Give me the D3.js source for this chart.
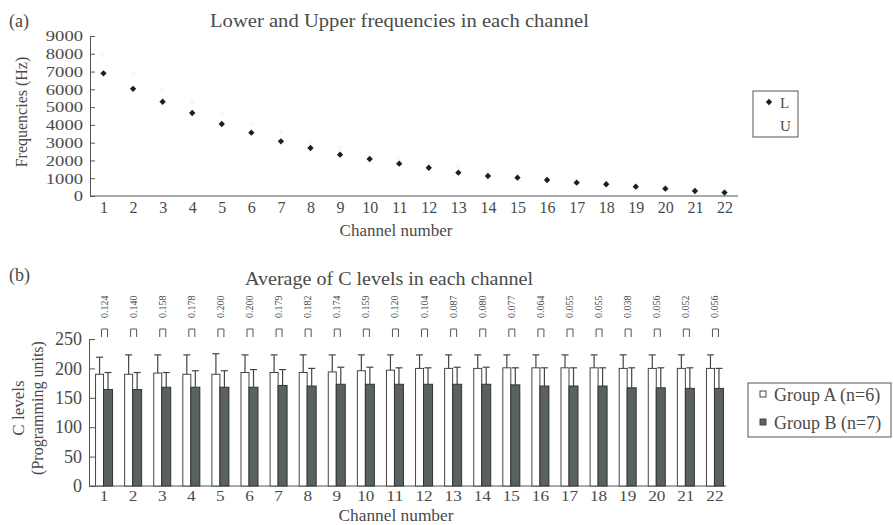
<!DOCTYPE html>
<html>
<head>
<meta charset="utf-8">
<script src="https://d3js.org/d3.v7.min.js"></script>
<style>
  body { margin: 0; background: #fff; }
  svg { display: block; }
  text { font-family: "Liberation Serif", "DejaVu Serif", serif; fill: #4a4a4a; }
  .axis path, .axis line { stroke: #555; }
  .axis text { font-family: "Liberation Serif", serif; fill: #4a4a4a; }
</style>
</head>
<body>
<svg id="chart" width="893" height="525"></svg>
<script>
// channel numbers shared by both panels
const channels = d3.range(1, 23);

// (a) lower / upper frequency of each channel (Hz)
const lowerFreq = [6900, 6030, 5300, 4670, 4050, 3560, 3075, 2700, 2325, 2080, 1820, 1590,
                   1310, 1125, 1030, 900, 750, 660, 525, 410, 280, 190];
const upperFreq = [7900, 6900, 6030, 5300, 4670, 4050, 3560, 3075, 2700, 2325, 2080, 1820,
                   1590, 1310, 1125, 1030, 900, 750, 660, 525, 410, 280];
const freqTicks = d3.range(0, 9001, 1000);

// (b) average C levels per group, with SD (upper error bar only)
const meanA = [190, 190, 192, 190, 190, 193, 193, 193, 194, 196, 197, 200,
               200, 200, 201, 201, 201, 201, 200, 200, 200, 200];
const sdA   = [29, 33, 31, 33, 35, 30, 30, 30, 29, 27, 26, 23,
               23, 23, 22, 22, 22, 22, 23, 23, 23, 23];
const meanB = [164, 164, 168, 168, 168, 168, 171, 170, 173, 173, 173, 173,
               173, 173, 172, 170, 170, 170, 167, 167, 166, 166];
const sdB   = [29, 29, 25, 28, 28, 30, 27, 30, 29, 29, 28, 28,
               29, 29, 29, 31, 31, 31, 34, 34, 35, 34];
const pValues = ["0.124", "0.140", "0.158", "0.178", "0.200", "0.200", "0.179", "0.182",
                 "0.174", "0.159", "0.120", "0.104", "0.087", "0.080", "0.077", "0.064",
                 "0.055", "0.055", "0.038", "0.056", "0.052", "0.056"];
const levelTicks = [0, 50, 100, 150, 200, 250];
const groupNames = ["Group A (n=6)", "Group B (n=7)"];

const svg = d3.select("#chart");
svg.append("rect").attr("width", 893).attr("height", 525).attr("fill", "#fff");

const darkFill = "#59625e";

/* ---------- panel (a) ---------- */
let xTop = d3.scalePoint().domain(channels).range([90, 738]).padding(0.456);
let yTop = d3.scaleLinear().domain([0, 9000]).range([196, 36]);

svg.append("text").text("(a)").attr("x", 9).attr("y", 27).attr("font-size", 18);
svg.append("text").text("Lower and Upper frequencies in each channel")
    .attr("x", 210).attr("y", 27).attr("font-size", 18)
    .attr("textLength", 379).attr("lengthAdjust", "spacingAndGlyphs");

// tick labels are tightly packed in the scan, so stretch them a little sideways
let gyTop = svg.append("g").attr("class", "axis")
    .attr("transform", "translate(90,0)")
    .call(d3.axisLeft(yTop).tickValues(freqTicks).tickFormat(d3.format("d"))
        .tickSize(-5).tickPadding(7).tickSizeOuter(0));
gyTop.selectAll("text").attr("font-size", 15)
    .attr("textLength", d => String(d).length * 9.3)
    .attr("lengthAdjust", "spacingAndGlyphs");

let gxTop = svg.append("g").attr("class", "axis")
    .attr("transform", "translate(0,196)")
    .call(d3.axisBottom(xTop).tickSize(0).tickPadding(6));
gxTop.select(".domain").attr("d", "M90,0H738");
gxTop.selectAll("text").attr("font-size", 16);

svg.append("text").text("Frequencies (Hz)")
    .attr("transform", "translate(27,112) rotate(-90)")
    .attr("text-anchor", "middle").attr("font-size", 16);
svg.append("text").text("Channel number")
    .attr("x", 396).attr("y", 236).attr("text-anchor", "middle").attr("font-size", 17);

let marker = d3.symbol().type(d3.symbolSquare).size(20);

svg.append("g").selectAll("path.u")
    .data(channels)
    .enter()
    .append("path")
    .attr("transform", (d, i) => "translate(" + xTop(d) + "," + yTop(upperFreq[i]) + ") rotate(45)")
    .attr("d", marker)
    .attr("fill", "#f8f8f8");

svg.append("g").selectAll("path.l")
    .data(channels)
    .enter()
    .append("path")
    .attr("transform", (d, i) => "translate(" + xTop(d) + "," + yTop(lowerFreq[i]) + ") rotate(45)")
    .attr("d", marker)
    .attr("fill", "#1e1e1e");

// legend (a)
svg.append("rect").attr("x", 753).attr("y", 91).attr("width", 45).attr("height", 46)
    .attr("fill", "none").attr("stroke", "#555");
svg.append("path").attr("transform", "translate(769,102) rotate(45)").attr("d", marker).attr("fill", "#1e1e1e");
svg.append("text").text("L").attr("x", 780).attr("y", 108).attr("font-family", "Liberation Sans").attr("font-size", 15);
svg.append("text").text("U").attr("x", 780).attr("y", 131).attr("font-family", "Liberation Sans").attr("font-size", 15);

/* ---------- panel (b) ---------- */
let xBot = d3.scalePoint().domain(channels).range([89, 729]).padding(0.5);
let yBot = d3.scaleLinear().domain([0, 250]).range([486, 339]);

svg.append("text").text("(b)").attr("x", 9).attr("y", 281).attr("font-size", 18);
svg.append("text").text("Average of C levels in each channel")
    .attr("x", 245).attr("y", 285).attr("font-size", 18)
    .attr("textLength", 288).attr("lengthAdjust", "spacingAndGlyphs");

let gyBot = svg.append("g").attr("class", "axis")
    .attr("transform", "translate(89,0)")
    .call(d3.axisLeft(yBot).tickValues(levelTicks).tickSize(-6).tickPadding(7).tickSizeOuter(0));
gyBot.selectAll("text").attr("font-size", 18);

let gxBot = svg.append("g").attr("class", "axis")
    .attr("transform", "translate(0,486)")
    .call(d3.axisBottom(xBot).tickSize(0).tickPadding(4));
gxBot.select(".domain").attr("d", "M89,0H726");
gxBot.selectAll("text").attr("font-size", 15)
    .attr("textLength", d => String(d).length * 8.6)
    .attr("lengthAdjust", "spacingAndGlyphs");

svg.append("text").text("C levels")
    .attr("transform", "translate(24,408) rotate(-90)")
    .attr("text-anchor", "middle").attr("font-size", 17);
svg.append("text").text("(Programming units)")
    .attr("transform", "translate(43,408) rotate(-90)")
    .attr("text-anchor", "middle").attr("font-size", 16);
svg.append("text").text("Channel number")
    .attr("x", 396).attr("y", 521).attr("text-anchor", "middle").attr("font-size", 16)
    .attr("textLength", 115).attr("lengthAdjust", "spacingAndGlyphs");

let barA = { "offset": -8, "width": 8 };
let barB = { "offset": 0, "width": 9 };

let groups = svg.append("g").selectAll("g.ch")
    .data(channels)
    .enter()
    .append("g")
    .attr("class", "ch");

// error bars (drawn under the bars so only the upper part shows)
groups.each(function(d, i) {
    let g = d3.select(this);
    let c = xBot(d);
    [[barA, meanA[i], sdA[i]], [barB, meanB[i], sdB[i]]].forEach(function(e) {
        let cx = c + e[0].offset + e[0].width / 2;
        let top = yBot(e[1] + e[2]);
        g.append("line").attr("x1", cx).attr("x2", cx)
            .attr("y1", yBot(e[1])).attr("y2", top)
            .attr("stroke", "#444").attr("stroke-width", 1.2);
        g.append("line").attr("x1", cx - 3.5).attr("x2", cx + 3.5)
            .attr("y1", top).attr("y2", top)
            .attr("stroke", "#444").attr("stroke-width", 1.2);
    });
});

groups.append("rect")
    .attr("x", d => xBot(d) + barA.offset)
    .attr("y", (d, i) => yBot(meanA[i]))
    .attr("width", barA.width)
    .attr("height", (d, i) => yBot(0) - yBot(meanA[i]))
    .attr("fill", "#fff").attr("stroke", "#444").attr("stroke-width", 1);

groups.append("rect")
    .attr("x", d => xBot(d) + barB.offset)
    .attr("y", (d, i) => yBot(meanB[i]))
    .attr("width", barB.width)
    .attr("height", (d, i) => yBot(0) - yBot(meanB[i]))
    .attr("fill", darkFill).attr("stroke", "#333").attr("stroke-width", 1);

// p-value brackets and labels
groups.append("path")
    .attr("d", d => { let c = xBot(d) + 1; return "M" + (c - 3) + ",337V329H" + (c + 3) + "V337"; })
    .attr("fill", "none").attr("stroke", "#555").attr("stroke-width", 1);

groups.append("text")
    .text((d, i) => pValues[i])
    .attr("transform", d => "translate(" + (xBot(d) + 4) + ",318) rotate(-90)")
    .attr("font-size", 10);

// legend (b)
svg.append("rect").attr("x", 748).attr("y", 383).attr("width", 143).attr("height", 54)
    .attr("fill", "none").attr("stroke", "#555");
let legB = svg.append("g").selectAll("g")
    .data(groupNames)
    .enter()
    .append("g")
    .attr("transform", (d, i) => "translate(760," + (395 + i * 28) + ")");
legB.append("rect").attr("x", 0).attr("y", -4).attr("width", 6).attr("height", 6)
    .attr("fill", (d, i) => i == 0 ? "#fff" : darkFill).attr("stroke", "#444");
legB.append("text").text(d => d).attr("x", 14).attr("y", 6).attr("font-size", 18);
</script>
</body>
</html>
